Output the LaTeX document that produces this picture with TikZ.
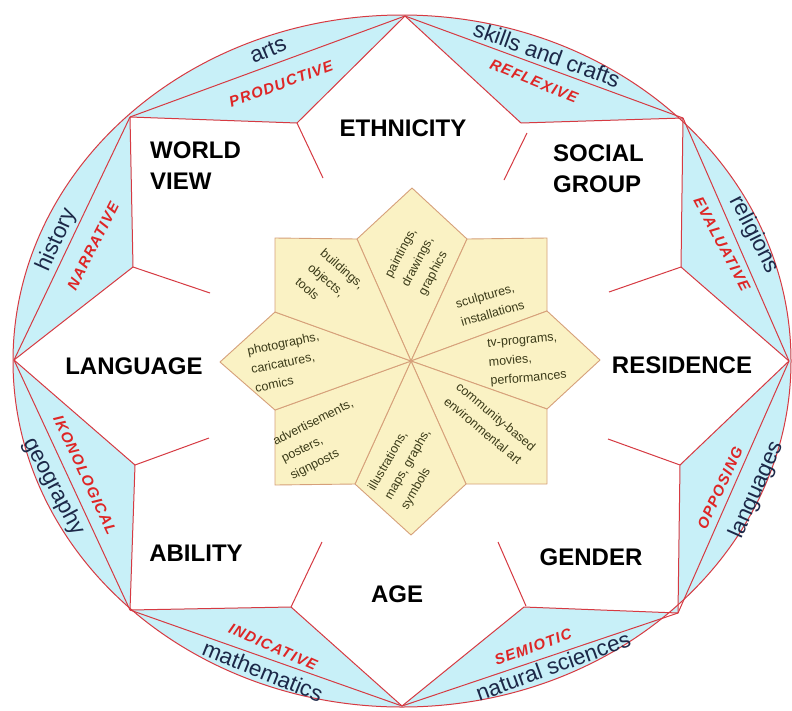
\documentclass[tikz,border=0pt]{standalone}
\usepackage{fontspec}
\setmainfont{Liberation Sans}
\definecolor{lnred}{RGB}{214,58,66}
\definecolor{skyfill}{RGB}{200,240,248}
\definecolor{petalfill}{RGB}{250,242,196}
\definecolor{petalline}{RGB}{214,160,122}
\definecolor{navytext}{RGB}{28,40,72}
\definecolor{redtext}{RGB}{222,38,38}
\definecolor{olivetext}{RGB}{58,58,24}
\begin{document}
\begin{tikzpicture}[x=1pt,y=-1pt,
  redline/.style={draw=lnred, line width=1pt, line join=round},
  petal/.style={fill=petalfill, draw=petalline, line width=0.9pt, line join=round},
  mainlabel/.style={font=\bfseries\fontsize{24}{31}\selectfont, text=black, inner sep=0pt},
  fieldlabel/.style={font=\fontsize{22.5}{27}\selectfont, text=navytext, inner sep=0pt},
  modelabel/.style={font=\bfseries\itshape\fontsize{15}{18}\selectfont\addfontfeatures{LetterSpace=8}, text=redtext, inner sep=0pt},
  petaltext/.style={font=\fontsize{12.5}{19}\selectfont, text=olivetext, align=left, inner sep=0pt},
]
\useasboundingbox (0,0) rectangle (792,710);
\fill[white] (0,0) rectangle (792,710);
\def\ecx{402}\def\ecy{361}\def\erx{389}\def\ery{346}
% outer vertices
\coordinate (R) at (789,361);
\coordinate (UR) at (683,118);
\coordinate (T) at (405,16);
\coordinate (UL) at (130,117);
\coordinate (L) at (14,360);
\coordinate (LL) at (130,610);
\coordinate (B) at (402,706);
\coordinate (LR) at (678,613);
% inner corners
\coordinate (a1) at (297,123);
\coordinate (a2) at (133,267);
\coordinate (b1) at (521,123);
\coordinate (b2) at (681,267);
\coordinate (c1) at (135,465);
\coordinate (c2) at (291,607);
\coordinate (d1) at (680,465);
\coordinate (d2) at (524,607);
% tick ends
\coordinate (a1s) at (297,123); \coordinate (a1e) at (323,178);
\coordinate (a2s) at (133,267); \coordinate (a2e) at (210,293);
\coordinate (b1s) at (527,133); \coordinate (b1e) at (504,180);
\coordinate (b2s) at (681,267); \coordinate (b2e) at (609,292);
\coordinate (c1s) at (135,465); \coordinate (c1e) at (209,438);
\coordinate (c2s) at (291,607); \coordinate (c2e) at (322,542);
\coordinate (d1s) at (680,465); \coordinate (d1e) at (608,439);
\coordinate (d2s) at (526,606); \coordinate (d2e) at (498,542);
% blue segments
\foreach \va/\ta/\vb/\tb/\vin in {R/0/UR/44.3/b2, UR/44.3/T/89.5/b1, T/89.5/UL/134.7/a1, UL/134.7/L/180/a2, L/180/LL/225.6/c1, LL/225.6/B/270/c2, B/270/LR/314.4/d2, LR/314.4/R/360/d1}{
  \fill[skyfill] (\va) -- plot[domain=\ta:\tb, samples=30] ({\ecx+\erx*cos(\x)},{\ecy-\ery*sin(\x)}) -- (\vb) -- (\vin) -- cycle;
}
\foreach \va/\vb/\vin in {R/UR/b2, UR/T/b1, T/UL/a1, UL/L/a2, L/LL/c1, LL/B/c2, B/LR/d2, LR/R/d1}{
  \draw[redline] (\va) -- (\vb);
  \draw[redline] (\va) -- (\vin) -- (\vb);
}
\foreach \tk in {a1,a2,b1,b2,c1,c2,d1,d2}{
  \draw[redline] (\tk s) -- (\tk e);
}
\draw[redline] (\ecx,\ecy) ellipse [x radius=389pt, y radius=346pt];
% flower
\coordinate (O) at (411,361);
\coordinate (n1) at (357,239);
\coordinate (apt) at (412,188);
\coordinate (n2) at (467,239);
\coordinate (crur) at (547,238);
\coordinate (n3) at (547,311);
\coordinate (apr) at (600,360);
\coordinate (n4) at (547,409);
\coordinate (crlr) at (547,484);
\coordinate (n5) at (466,484);
\coordinate (apb) at (411,535);
\coordinate (n6) at (355,484);
\coordinate (crll) at (275,485);
\coordinate (n7) at (275,410);
\coordinate (apl) at (220,362);
\coordinate (n8) at (275,312);
\coordinate (crul) at (275,238);
\foreach \pa/\pb/\pc in {n1/apt/n2, n2/crur/n3, n3/apr/n4, n4/crlr/n5, n5/apb/n6, n6/crll/n7, n7/apl/n8, n8/crul/n1}{
  \draw[petal] (O) -- (\pa) -- (\pb) -- (\pc) -- cycle;
}
% petal texts
\node[petaltext, rotate=62] (p1) at (418,262) {paintings,\\drawings,\\graphics};
\node[petaltext, rotate=16] (p2) at (490,304) {sculptures,\\installations};
\node[petaltext, rotate=5] (p3) at (527,360) {tv-programs,\\movies,\\performances};
\node[petaltext, rotate=-40] (p4) at (490,424) {community-based\\environmental art};
\node[petaltext, rotate=60] (p5) at (408,465) {illustrations,\\maps, graphs,\\symbols};
\node[petaltext, rotate=27] (p6) at (322,440) {advertisements,\\posters,\\signposts};
\node[petaltext, rotate=12] (p7) at (287,362) {photographs,\\caricatures,\\comics};
\node[petaltext, rotate=-41] (p8) at (330,283) {buildings,\\objects,\\tools};
% main labels
\node[mainlabel] (eth) at (403,128) {ETHNICITY};
\node[mainlabel, anchor=north west, align=left] (wv) at (150,142) {WORLD\\VIEW};
\node[mainlabel, anchor=north west, align=left] (sg) at (553,145) {SOCIAL\\GROUP};
\node[mainlabel] (lang) at (134,366) {LANGUAGE};
\node[mainlabel] (res) at (682,365) {RESIDENCE};
\node[mainlabel] (abil) at (196,553) {ABILITY};
\node[mainlabel] (gen) at (591,557) {GENDER};
\node[mainlabel] (age) at (397,594) {AGE};
% field labels
\node[fieldlabel, rotate=23] (f1) at (268,50) {arts};
\node[fieldlabel, rotate=-20] (f2) at (547,54) {skills and crafts};
\node[fieldlabel, rotate=-63] (f3) at (754,235) {religions};
\node[fieldlabel, rotate=66] (f4) at (757,490) {languages};
\node[fieldlabel, rotate=20] (f5) at (553,666) {natural sciences};
\node[fieldlabel, rotate=-22] (f6) at (263,671) {mathematics};
\node[fieldlabel, rotate=-62] (f7) at (54,487) {geography};
\node[fieldlabel, rotate=66] (f8) at (57,240) {history};
% mode labels
\node[modelabel, rotate=20] (m1) at (281,84) {PRODUCTIVE};
\node[modelabel, rotate=-22] (m2) at (534,81) {REFLEXIVE};
\node[modelabel, rotate=-62] (m3) at (722,244) {EVALUATIVE};
\node[modelabel, rotate=65] (m4) at (720,488) {OPPOSING};
\node[modelabel, rotate=20] (m5) at (533,647) {SEMIOTIC};
\node[modelabel, rotate=-24] (m6) at (273,647) {INDICATIVE};
\node[modelabel, rotate=-65] (m7) at (85,475) {IKONOLOGICAL};
\node[modelabel, rotate=63] (m8) at (93,246) {NARRATIVE};
\end{tikzpicture}
\end{document}
